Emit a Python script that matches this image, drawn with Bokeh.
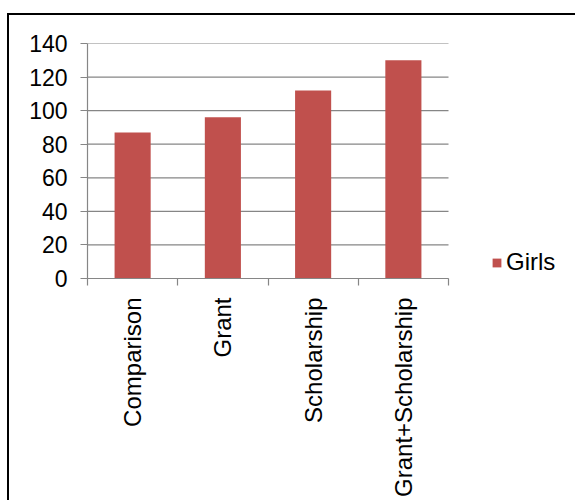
import math
from bokeh.plotting import figure
from bokeh.models import (Range1d, FixedTicker, Legend, LegendItem, ColumnDataSource)
from bokeh.embed import file_html
from bokeh.resources import INLINE

categories = ["Comparison", "Grant", "Scholarship", "Grant+Scholarship"]
girls = [87, 96, 112, 130]
series_name = "Girls"
y_ticks = [0, 20, 40, 60, 80, 100, 120, 140]

FONT = "Liberation Sans"
GRID = "#868686"
BAR = "#C0504D"

# layout (pixels)
W, H = 568, 487
LEFT, TOP, RIGHT, BOTTOM = 78, 28, 7, 224
CAT_SPAN_PX = 361          # width occupied by the category axis
frame_w = W - LEFT - RIGHT
n = len(categories)
x_end = n * frame_w / CAT_SPAN_PX   # frame extends to the right to host the legend

xpos = [i + 0.5 for i in range(n)]
src = ColumnDataSource(dict(x=xpos, top=girls, cat=categories))
grid_src = ColumnDataSource(dict(y=y_ticks, x0=[0] * len(y_ticks), x1=[n] * len(y_ticks)))

p = figure(width=W, height=H, output_backend="svg", toolbar_location=None,
           x_range=Range1d(0, x_end), y_range=Range1d(0, max(y_ticks)),
           min_border_left=LEFT, min_border_right=RIGHT, min_border_top=TOP, min_border_bottom=BOTTOM)
p.styles = {"border-top": "2px solid black", "border-left": "2px solid black",
            "margin-top": "13px", "margin-left": "7px"}
p.outline_line_color = None
p.background_fill_color = "white"
p.border_fill_color = "white"

# horizontal gridlines limited to the category area
p.segment(x0="x0", x1="x1", y0="y", y1="y", source=grid_src, line_color=GRID, line_width=1.2)

r = p.vbar(x="x", top="top", bottom=0, width=0.4, source=src, fill_color=BAR, line_color=None)

# y axis
p.yaxis.ticker = FixedTicker(ticks=y_ticks)
p.yaxis.axis_line_color = GRID
p.yaxis.axis_line_width = 1.2
p.yaxis.major_tick_line_color = GRID
p.yaxis.major_tick_line_width = 1.2
p.yaxis.major_tick_out = 7
p.yaxis.major_tick_in = 0
p.yaxis.minor_tick_line_color = None
p.yaxis.major_label_text_font = FONT
p.yaxis.major_label_text_font_size = "23px"
p.yaxis.major_label_text_color = "black"
p.yaxis.major_label_standoff = 13

# x axis
p.xaxis.bounds = (0, n)
p.xaxis.ticker = FixedTicker(ticks=xpos, minor_ticks=list(range(n + 1)))
p.xaxis.major_label_overrides = {x: c for x, c in zip(xpos, categories)}
p.xaxis.axis_line_color = GRID
p.xaxis.axis_line_width = 1.2
p.xaxis.major_tick_line_color = None
p.xaxis.major_tick_out = 0
p.xaxis.major_tick_in = 0
p.xaxis.minor_tick_line_color = GRID
p.xaxis.minor_tick_line_width = 1.2
p.xaxis.minor_tick_out = 7
p.xaxis.minor_tick_in = 0
p.xaxis.major_label_orientation = math.pi / 2
p.xaxis.major_label_text_font = FONT
p.xaxis.major_label_text_font_size = "24px"
p.xaxis.major_label_text_color = "black"
p.xaxis.major_label_standoff = 12

p.xgrid.grid_line_color = None
p.ygrid.grid_line_color = None

legend = Legend(items=[LegendItem(label=series_name, renderers=[r])], location=(404, 2),
                orientation="vertical", padding=0, margin=0, spacing=0,
                glyph_width=11, glyph_height=11, label_standoff=4, label_height=11,
                label_text_font=FONT, label_text_font_size="24px", label_text_baseline="middle",
                label_text_color="black",
                border_line_color=None, background_fill_alpha=0)
p.add_layout(legend, "center")

open("out.html", "w").write(file_html(p, INLINE))
